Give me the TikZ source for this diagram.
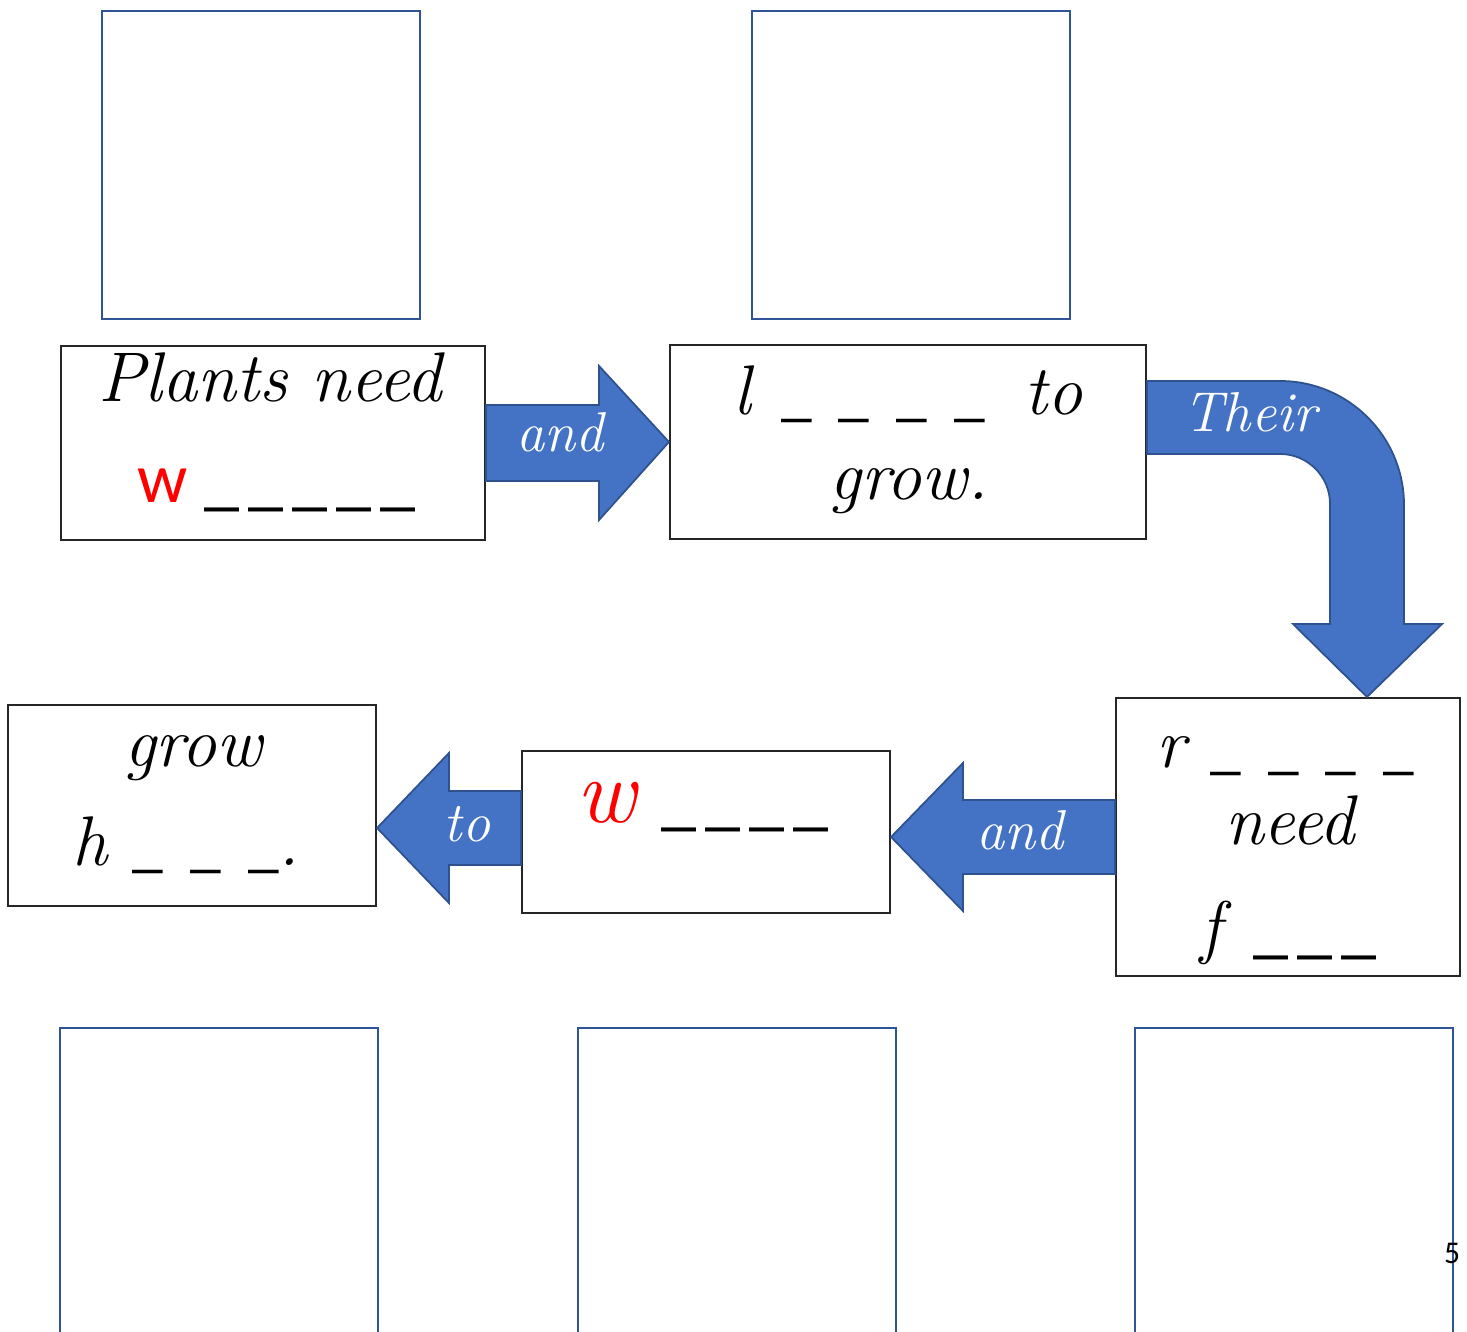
\documentclass[tikz,border=0pt]{standalone}
\usepackage{fontspec}
\newfontfamily\calibri{Carlito}
\usetikzlibrary{calc}
\definecolor{arrowblue}{HTML}{4472C4}
\definecolor{arrowedge}{HTML}{2F528F}
\definecolor{frameblue}{HTML}{2F5597}
\newcommand{\cursive}{\fontsize{20}{24}\selectfont\itshape}
\newcommand{\arrowtxt}{\fontsize{16}{19}\selectfont\itshape\color{white}}
% a blank to fill in: short ones and long ones
\newcommand{\blank}[1][17.5]{{\calibri\upshape\fontsize{#1}{20}\selectfont\_}}
\newcommand{\wide}{\hspace{0.27cm}}
\newcommand{\tight}{\hspace{0.09cm}}
\tikzset{
  textbox/.style={draw=black!85, line width=0.6pt, inner sep=0pt},
  picbox/.style={draw=frameblue, line width=0.8pt, inner sep=0pt, minimum width=3.18cm, minimum height=3.08cm},
  blockarrow/.style={fill=arrowblue, draw=arrowedge, line width=0.5pt, line join=miter},
  line/.style={anchor=base, inner sep=0pt, font=\cursive},
  arrowlabel/.style={anchor=base, inner sep=0pt, font=\arrowtxt}
}
\begin{document}
\begin{tikzpicture}
\clip (0,0) rectangle (14.67,-13.32);
% frames for pictures
\node[picbox] (p1) at (2.61,-1.65) {};
\node[picbox] (p2) at (9.11,-1.65) {};
\node[picbox] (p3) at (2.19,-11.82) {};
\node[picbox] (p4) at (7.37,-11.82) {};
\node[picbox] (p5) at (12.94,-11.82) {};
% sentence boxes
\node[textbox, minimum width=4.24cm, minimum height=1.94cm] (b1) at (2.73,-4.43) {};
\node[textbox, minimum width=4.76cm, minimum height=1.94cm] (b2) at (9.08,-4.42) {};
\node[textbox, minimum width=3.44cm, minimum height=2.78cm] (b3) at (12.88,-8.37) {};
\node[textbox, minimum width=3.68cm, minimum height=1.62cm] (b4) at (7.06,-8.32) {};
\node[textbox, minimum width=3.68cm, minimum height=2.01cm] (b5) at (1.92,-8.055) {};
% words
\node[line] (t1a) at (2.70,-4.02) {Plants need};
\node[line, anchor=base west] (t1b) at (1.37,-5.03) {{\calibri\upshape\fontsize{20}{24}\selectfont\color{red}w}\hspace{0.17cm}\blank[20]\tight\blank[20]\tight\blank[20]\tight\blank[20]\tight\blank[20]};
\node[line, anchor=base west] (t2a) at (7.33,-4.15) {l\hspace{0.3cm}\blank\wide\blank\wide\blank\wide\blank\hspace{0.4cm}to};
\node[line] (t2b) at (9.09,-5.00) {grow.};
\node[line, anchor=base west] (t3a) at (11.56,-7.68) {r\hspace{0.25cm}\blank\wide\blank\wide\blank\wide\blank};
\node[line] (t3b) at (12.90,-8.45) {need};
\node[line, anchor=base west] (t3c) at (12.00,-9.50) {f\hspace{0.32cm}\blank[20]\tight\blank[20]\tight\blank[20]};
\node[line, anchor=base west] (t4) at (5.76,-8.23) {{\fontsize{26}{28}\selectfont\color{red}w}\hspace{0.25cm}\blank[20]\tight\blank[20]\tight\blank[20]\tight\blank[20]};
\node[line] (t5a) at (1.93,-7.67) {grow};
\node[line, anchor=base west] (t5b) at (0.72,-8.66) {h\hspace{0.25cm}\blank\wide\blank\wide\blank.};
% arrows between boxes
\path[blockarrow] ($(b1.east)+(0,0.38)$) -- ++(1.13,0) -- ++(0,0.39) -- (b2.west)
  -- ($(b1.east)+(1.13,-0.77)$) -- ++(0,0.39) -- ($(b1.east)+(0,-0.38)$) -- cycle;
\coordinate (a4) at ($(b2.east)+(0,0.25)$);
\path[blockarrow] ($(a4)+(0,0.36)$) -- (12.80,-3.81) arc[start angle=90, end angle=0, radius=1.24]
  -- (14.04,-6.24) -- (14.42,-6.24) -- (b3.north -| 13.67,0) -- (12.93,-6.24) -- (13.30,-6.24)
  -- (13.30,-5.04) arc[start angle=0, end angle=90, radius=0.50] -- ($(a4)+(0,-0.37)$) -- cycle;
\path[blockarrow] ($(b3.west)+(0,0.37)$) -- ++(-1.52,0) -- ++(0,0.37) -- (b4.east |- b3.west)
  -- ($(b3.west)+(-1.52,-0.74)$) -- ++(0,0.37) -- ($(b3.west)+(0,-0.37)$) -- cycle;
\coordinate (a3) at ($(b4.west)+(0,0.04)$);
\path[blockarrow] ($(a3)+(0,0.37)$) -- ++(-0.72,0) -- ++(0,0.38) -- (b5.east |- a3)
  -- ($(a3)+(-0.72,-0.75)$) -- ++(0,0.38) -- ($(a3)+(0,-0.37)$) -- cycle;
% arrow words
\node[arrowlabel] (l1) at (5.60,-4.52) {and};
\node[arrowlabel] (l2) at (12.50,-4.32) {Their};
\node[arrowlabel] (l3) at (10.20,-8.50) {and};
\node[arrowlabel] (l4) at (4.67,-8.42) {to};
% page number
\node[inner sep=0pt, font=\calibri\fontsize{9}{11}\selectfont] (pg) at (14.52,-12.53) {5};
\end{tikzpicture}
\end{document}
